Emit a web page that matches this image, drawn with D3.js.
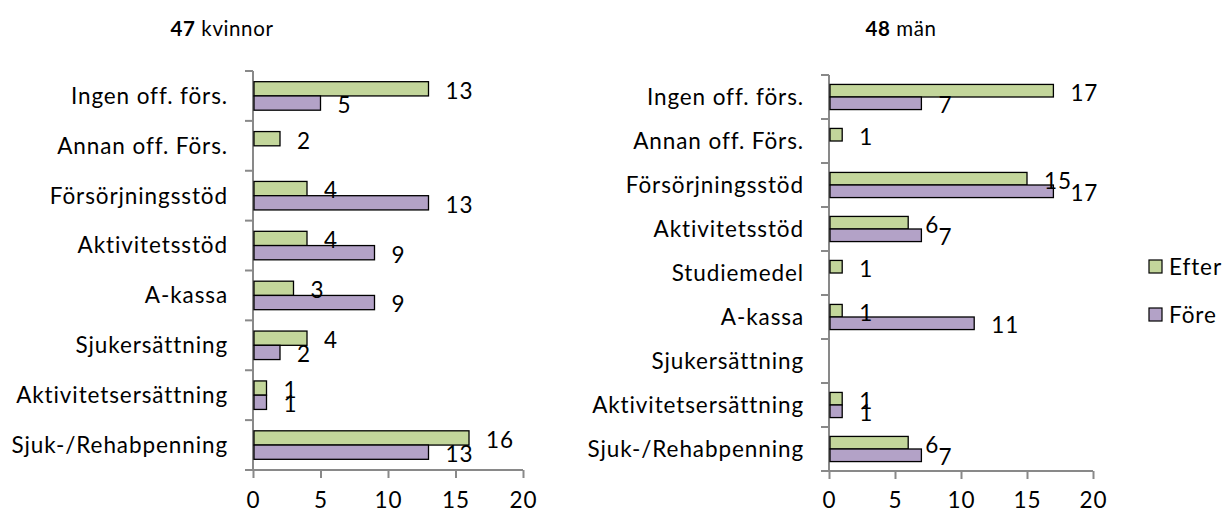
<!DOCTYPE html>
<html>
<head>
<meta charset="utf-8">
<script src="https://cdn.jsdelivr.net/npm/d3@7/dist/d3.min.js"></script>
<style>
  html, body { margin: 0; padding: 0; background: #ffffff; }
  svg text {
    font-family: Lato, "Open Sans", sans-serif;
    fill: #000;
    font-variant-ligatures: none;
    font-feature-settings: "liga" 0, "clig" 0;
  }
</style>
</head>
<body>
<svg id="chart" width="1225" height="513"></svg>
<script>
// Income sources before (Före) and after (Efter), women and men
const seriesNames = ["Efter", "Före"];
const seriesColors = ["#c3d69b", "#b3a2c7"];

const womenCount = 47;
const womenCategories = [
  "Ingen off. förs.", "Annan off. Förs.", "Försörjningsstöd", "Aktivitetsstöd",
  "A-kassa", "Sjukersättning", "Aktivitetsersättning", "Sjuk-/Rehabpenning"
];
const womenEfter = [13, 2, 4, 4, 3, 4, 1, 16];
const womenFore  = [5, null, 13, 9, 9, 2, 1, 13];

const menCount = 48;
const menCategories = [
  "Ingen off. förs.", "Annan off. Förs.", "Försörjningsstöd", "Aktivitetsstöd",
  "Studiemedel", "A-kassa", "Sjukersättning", "Aktivitetsersättning", "Sjuk-/Rehabpenning"
];
const menEfter = [17, 1, 15, 6, 1, 1, null, 1, 6];
const menFore  = [7, null, 17, 7, null, 11, null, 1, 7];

const xTicks = [0, 5, 10, 15, 20];

const svg = d3.select("#chart");
const FONT = 22.5;
const SPACING = 0.9;
const AXIS_COLOR = "#898989";

function styleText(sel, size) {
  return sel.style("font-size", size + "px").style("letter-spacing", SPACING + "px");
}

function drawPanel(opts) {
  const g = svg.append("g");
  const x = d3.scaleLinear().domain([0, 20]).range([opts.x0, opts.x1]);
  const y = d3.scaleBand().domain(opts.categories).range([opts.y0, opts.y1]).padding(0);
  const sub = d3.scaleBand().domain(seriesNames).range([0, y.bandwidth()])
    .paddingInner(0).paddingOuter(0.75);

  // title
  const t = g.append("text")
    .attr("x", opts.titleX).attr("y", 36)
    .attr("text-anchor", "middle")
    .style("font-size", "20.5px").style("letter-spacing", "0.6px");
  t.append("tspan").style("font-weight", "bold").text(opts.count);
  t.append("tspan").text(" " + opts.titleWord);

  // value axis
  const xAxis = d3.axisBottom(x).tickValues(xTicks).tickSize(8).tickSizeOuter(0);
  const xg = g.append("g").attr("transform", `translate(0,${opts.y1})`).call(xAxis);
  xg.select(".domain").attr("stroke", AXIS_COLOR).attr("stroke-width", 2)
    .attr("d", `M${opts.x0 - 8},0H${opts.x1}`);
  xg.selectAll(".tick line").attr("stroke", AXIS_COLOR).attr("stroke-width", 2);
  styleText(xg.selectAll(".tick text"), FONT)
    .style("font-family", "Lato, sans-serif")
    .attr("fill", "#000")
    .attr("y", 508 - opts.y1)
    .attr("dy", 0);

  // category axis line and boundary ticks
  g.append("line")
    .attr("x1", opts.x0).attr("x2", opts.x0)
    .attr("y1", opts.y0).attr("y2", opts.y1)
    .attr("stroke", AXIS_COLOR).attr("stroke-width", 2);
  const bounds = opts.categories.map(c => y(c));
  g.selectAll(".ctick").data(bounds).join("line")
    .attr("x1", opts.x0 - 8).attr("x2", opts.x0)
    .attr("y1", d => d).attr("y2", d => d)
    .attr("stroke", AXIS_COLOR).attr("stroke-width", 2);

  // category labels
  styleText(g.selectAll(".clabel").data(opts.categories).join("text"), FONT)
    .attr("x", opts.x0 - 25)
    .attr("y", d => y(d) + y.bandwidth() / 2)
    .attr("dy", "0.35em")
    .attr("text-anchor", "end")
    .text(d => d);

  // bars
  const rows = [];
  opts.categories.forEach((c, i) => {
    [opts.efter[i], opts.fore[i]].forEach((v, j) => {
      if (v !== null) rows.push({ cat: c, series: seriesNames[j], value: v, color: seriesColors[j] });
    });
  });
  g.selectAll(".bar").data(rows).join("rect")
    .attr("x", opts.x0 + 1)
    .attr("y", d => y(d.cat) + sub(d.series))
    .attr("width", d => x(d.value) - opts.x0 - 1)
    .attr("height", sub.bandwidth())
    .attr("fill", d => d.color)
    .attr("stroke", "#000")
    .attr("stroke-width", 1.3);

  // value labels
  styleText(g.selectAll(".vlabel").data(rows).join("text"), FONT)
    .attr("x", d => x(d.value) + 17)
    .attr("y", d => y(d.cat) + sub(d.series) + sub.bandwidth() / 2 + 2)
    .attr("dy", "0.35em")
    .text(d => d.value);
}

drawPanel({
  count: womenCount, titleWord: "kvinnor", titleX: 222,
  categories: womenCategories, efter: womenEfter, fore: womenFore,
  x0: 253, x1: 523, y0: 71, y1: 470
});

drawPanel({
  count: menCount, titleWord: "män", titleX: 901,
  categories: menCategories, efter: menEfter, fore: menFore,
  x0: 829, x1: 1093, y0: 75, y1: 471
});

// legend
const legend = svg.append("g");
seriesNames.forEach((name, i) => {
  const cy = 267 + i * 48;
  legend.append("rect")
    .attr("x", 1149).attr("y", cy - 7)
    .attr("width", 13).attr("height", 13)
    .attr("fill", seriesColors[i]).attr("stroke", "#000").attr("stroke-width", 1.2);
  styleText(legend.append("text"), FONT)
    .attr("x", 1169).attr("y", cy).attr("dy", "0.35em")
    .text(name);
});
</script>
</body>
</html>
